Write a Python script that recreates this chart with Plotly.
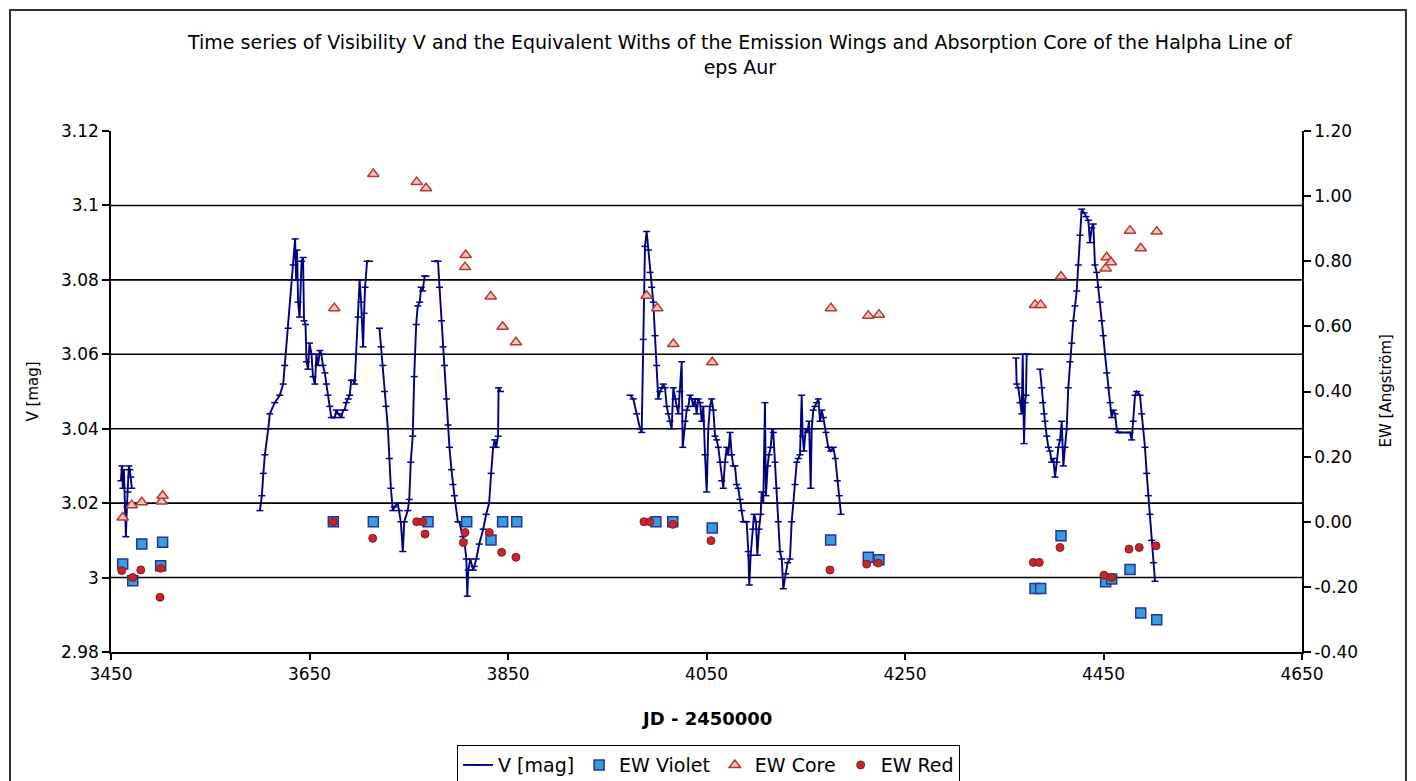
import plotly.graph_objects as go

# ---- V magnitude time series (JD - 2450000, V [mag]); None marks gaps between observing runs
jd_v = [
    3460, 3461, 3462, 3463, 3464, 3465, 3466, 3467, 3468, 3469, 3470, 3471,
    None,
    3600, 3602, 3603.5, 3605, 3608.5, 3610, 3615, 3620, 3623.5, 3625, 3628.5, 3632,
    3633.5, 3635.5, 3636.5, 3637.5, 3638.5, 3640, 3642, 3643.5, 3644.5, 3646, 3647,
    3648.5, 3650, 3652, 3653.5, 3655.5, 3657, 3658.5, 3660.5, 3662, 3663.5, 3665.5,
    3667, 3668.5, 3670.5, 3672, 3675.5, 3677, 3679, 3682, 3684, 3685.5, 3687, 3689,
    3690.5, 3692, 3694, 3695.5, 3697, 3699, 3700.5, 3702, 3704, 3705, 3706, 3708, 3710.5,
    None,
    3720.5, 3722, 3724, 3725.5, 3727, 3729, 3730.5, 3732, 3734, 3735.5, 3739, 3740.5,
    3742, 3744, 3745.5, 3749, 3750.5, 3752, 3754, 3755.5, 3757.5, 3759, 3761, 3762.5,
    3764, 3766, 3767.5,
    None,
    3776, 3779.5, 3781, 3783, 3784.5, 3786, 3788, 3789.5, 3791, 3793, 3794.5, 3796,
    3799.5, 3801, 3804.5, 3806, 3808, 3809, 3810, 3812, 3815, 3816, 3818, 3821, 3825,
    3828, 3831, 3833, 3835, 3836.5, 3838, 3840, 3840.5, 3842.5,
    None,
    3973, 3976.2, 3979.7, 3983, 3984.7, 3986.3, 3988, 3989.7, 3991.4, 3993.1, 3994.8,
    3996.4, 3998.1, 3999.8, 4001.4, 4003.1, 4004.9, 4006.5, 4008.2, 4009.9, 4011.5,
    4013.2, 4014.9, 4016.6, 4018.3, 4020, 4021.6, 4023.3, 4025, 4026, 4028.3, 4030,
    4031.7, 4033.4, 4035.1, 4036.7, 4038.4, 4040.1, 4041.7, 4043.5, 4045.2, 4046.8,
    4048.5, 4050.2, 4051.8, 4053.5, 4055.2, 4056.9, 4058.6, 4060.3, 4061.9, 4063.6,
    4065.3, 4066.9, 4068.6, 4070.4, 4072, 4073.7, 4075.4, 4077, 4078.7, 4080.4, 4082,
    4083.8, 4085.5, 4087.1, 4088.8, 4090.5, 4092.1, 4093.1, 4094.5, 4096.6, 4097.9,
    4099.9, 4101.2, 4102.9, 4104.6, 4105.6, 4107.2, 4108.9, 4109.9, 4111.6, 4112.9,
    4114.7, 4116.3, 4117.3, 4119, 4120.7, 4122.3, 4124, 4125.8, 4127.4, 4129.8, 4131.8,
    4134.1, 4135.8, 4137.5, 4139.2, 4140.9, 4142.5, 4144.2, 4145.9, 4146.9, 4148.2,
    4150, 4151.6, 4153.3, 4155, 4156, 4157.6, 4159.3, 4161, 4162.7, 4164.4, 4166.1,
    4167.7, 4170.4, 4172.7, 4175.2, 4177.8, 4179.8, 4181.8, 4183.8, 4185.5,
    None,
    4361.8, 4362.5, 4364.2, 4365.9, 4367.6, 4368.6, 4369.9, 4370.9, 4371.9, 4372.6, 4374.2,
    None,
    4386, 4387.7, 4388.7, 4390, 4391, 4392.8, 4394.4, 4396.1, 4397.8, 4399.4, 4401.2,
    4402.9, 4404.5, 4406.2, 4407.9, 4409.5, 4411.2, 4412.9, 4414.5, 4416.2, 4418,
    4419.6, 4421.3, 4423, 4424.6, 4426.3, 4428, 4430.4, 4432.4, 4434.7, 4436.4, 4438.1,
    4439.7, 4441.4, 4443.1, 4444.8, 4446.5, 4448.2, 4449.8, 4451.5, 4453.2, 4454.8,
    4456.6, 4458.2, 4459.9, 4461.6, 4463.3, 4464.9, 4466.6, 4476.7, 4478.4, 4480,
    4481.8, 4483.5, 4486.8, 4488.5, 4490.1, 4491.8, 4493.5, 4495.1, 4496.8, 4498.5,
    4500.2, 4501.9,
]

v_mag = [
    3.026, 3.030, 3.024, 3.029, 3.020, 3.011, 3.019, 3.023, 3.030, 3.029, 3.027, 3.024,
    None,
    3.018, 3.022, 3.028, 3.033, 3.040, 3.044, 3.047, 3.049, 3.052, 3.057, 3.067, 3.080,
    3.084, 3.091, 3.080, 3.088, 3.074, 3.070, 3.085, 3.086, 3.069, 3.068, 3.058,
    3.056, 3.063, 3.060, 3.054, 3.052, 3.060, 3.057, 3.061, 3.060, 3.057, 3.055,
    3.052, 3.049, 3.046, 3.043, 3.043, 3.045, 3.044, 3.043, 3.045, 3.045, 3.047, 3.048,
    3.049, 3.053, 3.053, 3.052, 3.060, 3.070, 3.080, 3.074, 3.062, 3.071, 3.078, 3.085, 3.085,
    None,
    3.067, 3.062, 3.057, 3.050, 3.046, 3.040, 3.032, 3.024, 3.018, 3.019, 3.020, 3.018,
    3.015, 3.007, 3.015, 3.018, 3.021, 3.031, 3.038, 3.054, 3.068, 3.073, 3.074, 3.078,
    3.077, 3.081, 3.081,
    None,
    3.085, 3.085, 3.078, 3.069, 3.062, 3.057, 3.048, 3.041, 3.035, 3.029, 3.025, 3.022,
    3.015, 3.015, 3.011, 3.010, 3.005, 2.995, 3.002, 3.005, 3.002, 3.003, 3.005, 3.009, 3.013,
    3.017, 3.020, 3.028, 3.035, 3.037, 3.035, 3.038, 3.051, 3.050,
    None,
    3.049, 3.048, 3.044, 3.040, 3.039, 3.064, 3.089, 3.093, 3.088, 3.082, 3.078,
    3.074, 3.065, 3.057, 3.048, 3.050, 3.051, 3.052, 3.051, 3.046, 3.044,
    3.042, 3.040, 3.051, 3.048, 3.046, 3.044, 3.050, 3.058, 3.035, 3.042, 3.045,
    3.046, 3.049, 3.048, 3.046, 3.048, 3.044, 3.048, 3.047, 3.042, 3.046,
    3.033, 3.023, 3.040, 3.046, 3.048, 3.045, 3.038, 3.037, 3.035, 3.031,
    3.026, 3.024, 3.031, 3.035, 3.033, 3.039, 3.033, 3.030, 3.030, 3.025, 3.024,
    3.021, 3.018, 3.015, 3.015, 3.015, 3.007, 2.998, 3.006, 3.013, 3.017,
    3.015, 3.006, 3.013, 3.017, 3.023, 3.020, 3.047, 3.022, 3.030, 3.033,
    3.035, 3.040, 3.039, 3.031, 3.024, 3.015, 3.007, 3.005, 2.997, 3.001, 3.004,
    3.005, 3.015, 3.020, 3.025, 3.031, 3.032, 3.033, 3.049, 3.038, 3.034,
    3.040, 3.039, 3.042, 3.024, 3.040, 3.045, 3.046, 3.047, 3.048, 3.042, 3.045,
    3.043, 3.039, 3.035, 3.034, 3.035, 3.032, 3.026, 3.022, 3.017,
    None,
    3.059, 3.052, 3.051, 3.047, 3.044, 3.060, 3.036, 3.047, 3.049, 3.060, 3.060,
    None,
    3.056, 3.051, 3.047, 3.044, 3.042, 3.038, 3.035, 3.034, 3.031, 3.032, 3.027,
    3.031, 3.035, 3.037, 3.042, 3.030, 3.035, 3.040, 3.051, 3.058, 3.063,
    3.069, 3.073, 3.077, 3.084, 3.092, 3.099, 3.098, 3.097, 3.096, 3.090, 3.094,
    3.095, 3.084, 3.082, 3.078, 3.074, 3.069, 3.065, 3.060, 3.055, 3.051,
    3.047, 3.043, 3.045, 3.044, 3.040, 3.039, 3.039, 3.039, 3.037, 3.042,
    3.049, 3.050, 3.049, 3.044, 3.040, 3.035, 3.028, 3.022, 3.017, 3.010,
    3.004, 2.999,
]

# ---- Equivalent widths of the H-alpha components (Angstrom)
jd_violet = [3461.8, 3471.9, 3481, 3500, 3502, 3674, 3714.3, 3769.4, 3808.4, 3832.9,
             3844.6, 3858.8, 3999, 4016, 4055.8, 4175.1, 4213, 4223.8, 4381, 4386.7,
             4407.2, 4452.2, 4458.2, 4476.7, 4487.5, 4503.6]
ew_violet = [-0.130, -0.181, -0.068, -0.135, -0.063, 0.0, 0.0, 0.0, 0.0, -0.056,
             0.0, 0.0, 0.0, 0.0, -0.019, -0.056, -0.109, -0.117, -0.205, -0.205,
             -0.043, -0.184, -0.176, -0.147, -0.280, -0.301]

jd_core = [3461.8, 3470.9, 3481, 3501, 3502, 3675, 3714.3, 3758, 3767.4, 3806.7,
           3807.4, 3832.6, 3844.6, 3858, 3989.7, 4000.4, 4016.6, 4055.8, 4175.4, 4213,
           4223.8, 4381, 4386.7, 4407.2, 4452.2, 4453.2, 4457.5, 4476.7, 4487.5, 4503.6]
ew_core = [0.013, 0.051, 0.060, 0.062, 0.080, 0.656, 1.068, 1.043, 1.024, 0.782,
           0.819, 0.692, 0.599, 0.551, 0.694, 0.656, 0.546, 0.490, 0.656, 0.633,
           0.636, 0.666, 0.666, 0.753, 0.778, 0.812, 0.797, 0.894, 0.840, 0.891]

jd_red = [3460.8, 3471.9, 3480, 3500, 3499.4, 3674, 3713.7, 3758, 3764, 3766.4,
          3805, 3806.7, 3831.2, 3843.6, 3858, 3987, 3993, 4016, 4054.5, 4174.4,
          4211.4, 4223, 4379.3, 4385.3, 4406.2, 4450.5, 4458.2, 4475.7, 4486, 4502.9]
ew_red = [-0.150, -0.171, -0.148, -0.143, -0.232, 0.0, -0.051, 0.0, 0.0, -0.038,
          -0.064, -0.033, -0.033, -0.094, -0.109, 0.0, 0.0, -0.008, -0.058, -0.148,
          -0.130, -0.127, -0.125, -0.125, -0.079, -0.164, -0.171, -0.084, -0.079, -0.074]

# ---- axis ticks
x_ticks = [3450, 3650, 3850, 4050, 4250, 4450, 4650]
v_ticks = [2.98, 3.00, 3.02, 3.04, 3.06, 3.08, 3.10, 3.12]
v_ticktext = ["2.98", "3", "3.02", "3.04", "3.06", "3.08", "3.1", "3.12"]
v_gridlines = [3.00, 3.02, 3.04, 3.06, 3.08, 3.10]
ew_ticks = [-0.4, -0.2, 0.0, 0.2, 0.4, 0.6, 0.8, 1.0, 1.2]
ew_ticktext = ["-0.40", "-0.20", "0.00", "0.20", "0.40", "0.60", "0.80", "1.00", "1.20"]

FONT = "DejaVu Sans"
NAVY = "#000080"

fig = go.Figure()

fig.add_trace(go.Scatter(
    x=jd_v, y=v_mag, name="V [mag]", mode="lines+markers", connectgaps=False,
    line=dict(color=NAVY, width=1.9),
    marker=dict(symbol="line-ew", size=5, color=NAVY, line=dict(color=NAVY, width=1.5)),
))
fig.add_trace(go.Scatter(
    x=jd_violet, y=ew_violet, name="EW Violet", mode="markers", yaxis="y2",
    marker=dict(symbol="square", size=10, color="#3d9be0",
                line=dict(color="#23368f", width=1.5)),
))
fig.add_trace(go.Scatter(
    x=jd_core, y=ew_core, name="EW Core", mode="markers", yaxis="y2",
    marker=dict(symbol="triangle-up", size=10, color="#f2c4b4",
                line=dict(color="#b23a3a", width=1.5)),
))
fig.add_trace(go.Scatter(
    x=jd_red, y=ew_red, name="EW Red", mode="markers", yaxis="y2",
    marker=dict(symbol="circle", size=8, color="#c4262e",
                line=dict(color="#8c1a1f", width=1)),
))

shapes = []
# horizontal grid lines of the V axis
for g in v_gridlines:
    shapes.append(dict(type="line", xref="paper", x0=0, x1=1, yref="y", y0=g, y1=g,
                       line=dict(color="black", width=1.6), layer="below"))
# chart frame
shapes.append(dict(type="rect", xref="paper", yref="paper",
                   x0=-0.0848, x1=1.0873, y0=-0.30, y1=1.2322,
                   line=dict(color="#333333", width=2), layer="below"))

annotations = [
    dict(text="Time series of Visibility V and the Equivalent Withs of the Emission Wings "
              "and Absorption Core of the Halpha Line of<br>eps Aur",
         xref="paper", yref="paper", x=0.528, y=1.195, xanchor="center", yanchor="top",
         showarrow=False, font=dict(family=FONT, size=19, color="black")),
    dict(text="JD - 2450000", xref="paper", yref="paper", x=0.5, y=-0.127,
         xanchor="center", yanchor="middle", showarrow=False,
         font=dict(family=FONT, size=18, color="black", weight="bold")),
    dict(text="V [mag]", xref="paper", yref="paper", x=-0.0655, y=0.5,
         xanchor="center", yanchor="middle", textangle=-90, showarrow=False,
         font=dict(family=FONT, size=15, color="black")),
    dict(text="EW [Angström]", xref="paper", yref="paper", x=1.0697, y=0.5,
         xanchor="center", yanchor="middle", textangle=-90, showarrow=False,
         font=dict(family=FONT, size=15, color="black")),
]

tickfont = dict(family=FONT, size=17, color="black")

fig.update_layout(
    width=1416, height=781,
    margin=dict(l=111, r=114, t=131, b=129),
    paper_bgcolor="white", plot_bgcolor="white",
    showlegend=True,
    legend=dict(orientation="h", xref="paper", x=0.5017, xanchor="center",
                yref="container", y=0.046, yanchor="top",
                bordercolor="black", borderwidth=1, bgcolor="white",
                font=dict(family=FONT, size=19, color="black")),
    xaxis=dict(range=[3450, 4650], tickvals=x_ticks, ticks="outside", ticklen=6,
               tickwidth=1.5, tickcolor="black", showline=True, linecolor="black",
               linewidth=1.6, showgrid=False, zeroline=False, tickfont=tickfont),
    yaxis=dict(range=[2.98, 3.12], tickvals=v_ticks, ticktext=v_ticktext,
               ticks="outside", ticklen=7, tickwidth=1.5, tickcolor="black",
               showline=True, linecolor="black", linewidth=1.6, showgrid=False,
               zeroline=False, tickfont=tickfont),
    yaxis2=dict(range=[-0.4, 1.2], tickvals=ew_ticks, ticktext=ew_ticktext,
                overlaying="y", side="right", ticks="outside", ticklen=7,
                tickwidth=1.5, tickcolor="black", showline=True, linecolor="black",
                linewidth=1.6, showgrid=False, zeroline=False, tickfont=tickfont),
    shapes=shapes,
    annotations=annotations,
)

fig.write_html("out.html")
